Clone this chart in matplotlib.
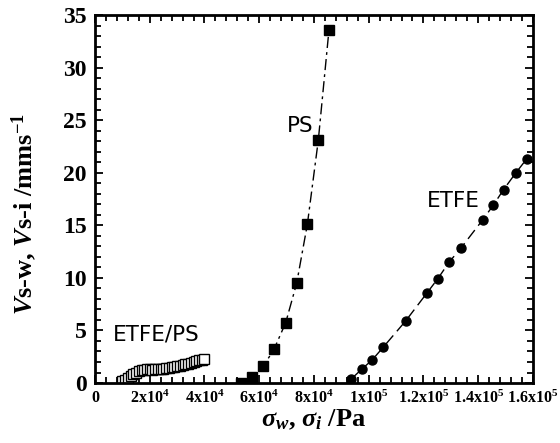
import matplotlib
matplotlib.use("Agg")
import matplotlib.pyplot as plt
from matplotlib.ticker import MultipleLocator, FixedLocator

plt.rcParams['mathtext.fontset'] = 'custom'
plt.rcParams['mathtext.rm'] = 'Liberation Serif:bold'
plt.rcParams['mathtext.it'] = 'Liberation Serif:italic:bold'
plt.rcParams['mathtext.bf'] = 'Liberation Serif:bold'

# Data ########################################################################
ps_x = [53300, 57200, 61500, 65400, 69700, 73700, 77600, 81600, 85500]
ps_y = [0.0, 0.6, 1.6, 3.2, 5.75, 9.5, 15.1, 23.1, 33.6]

etfe_x = [93500, 97400, 101300, 105300, 113500, 121400, 125200, 129400,
          133600, 141600, 145500, 149300, 153800, 157700]
etfe_y = [0.35, 1.3, 2.2, 3.4, 5.9, 8.6, 9.9, 11.5, 12.8, 15.5, 16.9,
          18.4, 20.0, 21.3]

mix_x = [10000, 11000, 12000, 13000, 14000, 15000, 16000, 17000, 18000,
         19000, 20000, 21000, 22000, 23000, 24000, 25000, 26000, 27000,
         28000, 29000, 30000, 31000, 32000, 33000, 34000, 35000, 36000,
         37000, 38000, 39000, 40000]
mix_y = [0.2, 0.3, 0.5, 0.7, 0.9, 1.0, 1.1, 1.2, 1.25, 1.3, 1.3, 1.25,
         1.3, 1.35, 1.3, 1.35, 1.4, 1.45, 1.5, 1.55, 1.6, 1.65, 1.7, 1.8,
         1.85, 1.9, 2.0, 2.05, 2.15, 2.2, 2.3]

xticks = [0, 20000, 40000, 60000, 80000, 100000, 120000, 140000, 160000]
xticklabels = ['0', r'$\mathbf{2x10^{4}}$', r'$\mathbf{4x10^{4}}$',
               r'$\mathbf{6x10^{4}}$', r'$\mathbf{8x10^{4}}$',
               r'$\mathbf{1x10^{5}}$', r'$\mathbf{1.2x10^{5}}$',
               r'$\mathbf{1.4x10^{5}}$', r'$\mathbf{1.6x10^{5}}$']

# Plot ########################################################################
fig = plt.figure(figsize=(5.6, 4.43), dpi=100)
ax = fig.add_axes([0.1696, 0.1354, 0.782, 0.8307])

ax.plot(mix_x, mix_y, color='black', lw=0.8, marker='s', ms=6.5,
        mfc='white', mec='black', mew=1)
ax.plot(ps_x, ps_y, color='black', lw=1, marker='s', ms=7,
        dashes=(8, 3, 2, 3))
ax.plot(etfe_x, etfe_y, color='black', lw=1, marker='o', ms=6.5,
        dashes=(8, 4))

ax.text(6600, 4.0, 'ETFE/PS', fontsize=15.5, family='DejaVu Sans')
ax.text(70100, 23.9, 'PS', fontsize=15.5, family='DejaVu Sans')
ax.text(121300, 16.7, 'ETFE', fontsize=15.5, family='DejaVu Sans')

ax.set_xlim(0, 160000)
ax.set_ylim(0, 35)
ax.xaxis.set_major_locator(FixedLocator(xticks))
ax.set_xticklabels(xticklabels)
ax.xaxis.set_minor_locator(MultipleLocator(4000))
ax.yaxis.set_major_locator(MultipleLocator(5))
ax.yaxis.set_minor_locator(MultipleLocator(1))
ax.tick_params(which='both', direction='in', top=True, right=True, width=1.3)
ax.tick_params(which='major', length=6)
ax.tick_params(which='minor', length=4)
ax.tick_params(axis='x', labelsize=11.5, pad=5)
ax.tick_params(axis='y', labelsize=17, pad=6)
for lab in ax.get_yticklabels() + ax.get_xticklabels():
    lab.set_family('Liberation Serif')
    lab.set_fontweight('bold')
for sp in ax.spines.values():
    sp.set_linewidth(2)

ax.set_xlabel(r'$\sigma_{w}$, $\sigma_{i}$ /Pa', fontsize=19,
              family='Liberation Serif', fontweight='bold', labelpad=0)
ax.set_ylabel(r'$V$s-w, $V$s-i /mms$^{-1}$', fontsize=19,
              family='Liberation Serif', fontweight='bold')
ax.yaxis.set_label_coords(-0.128, 0.46)

fig.savefig('out.png', dpi=100)
